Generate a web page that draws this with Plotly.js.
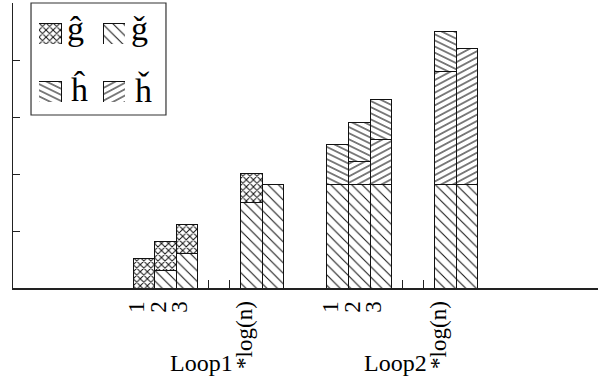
<!DOCTYPE html>
<html><head><meta charset="utf-8">
<script src="https://cdn.plot.ly/plotly-3.0.1.min.js"></script>
<style>html,body{margin:0;padding:0;background:#fff}#chart{width:603px;height:377px}</style>
</head><body><div id="chart"></div>
<script>
// ---- data ----
const groupNames = ["Loop1", "Loop2"];
const slotLabels = ["1", "2", "3", "", "", "*log(n)", ""];
const seriesNames = ["ĝ", "ǧ", "ĥ", "ȟ"];
// values per group, per slot (null = no segment)
const gHat   = [[0.52, 0.51, 0.51, null, null, 0.51, null],
                [null, null, null, null, null, null, null]];
const gCheck = [[null, 0.30, 0.61, null, null, 1.50, 1.81],
                [1.81, 1.81, 1.81, null, null, 1.81, 1.81]];
const hHat   = [[null, null, null, null, null, null, null],
                [0.70, 0.69, 0.70, null, null, 0.70, null]];
const hCheck = [[null, null, null, null, null, null, null],
                [null, 0.41, 0.80, null, null, 1.99, 2.40]];
const yTicks = [0, 1, 2, 3, 4, 5];

// ---- styles ----
const FONT = "'Liberation Serif', 'DejaVu Serif', serif";
const groupGap = 2;
const nSlots = slotLabels.length;
const styles = {
  "ĝ": {shape: "x",  size: 5,   solidity: 0.36, angle: null},
  "ǧ": {shape: "\\", size: 7.4, solidity: 0.14, angle: null},
  "ĥ": {shape: "-",  size: 5.5, solidity: 0.19, angle: 26},
  "ȟ": {shape: "-",  size: 5.6, solidity: 0.19, angle: -28}
};
const seriesValues = {"ĝ": gHat, "ǧ": gCheck, "ĥ": hHat, "ȟ": hCheck};
const stackOrder = ["ǧ", "ȟ", "ĥ", "ĝ"];

function marker(name) {
  const s = styles[name];
  return {
    color: "white",
    line: {color: "#111", width: 1},
    pattern: {shape: s.shape, size: s.size, solidity: s.solidity,
              fgcolor: "#111", bgcolor: "white", fillmode: "replace"}
  };
}

const xs = [], xlab = [];
groupNames.forEach((g, gi) => slotLabels.forEach((lab, i) => {
  xs.push(gi * (nSlots + groupGap) + i + 1); xlab.push(lab);
}));

const traces = [];
stackOrder.forEach(name => {
  const vals = [].concat(...seriesValues[name]);
  traces.push({
    type: "bar", x: xs, y: vals, width: 1, name: name, showlegend: false,
    marker: marker(name), hoverinfo: "skip",
    meta: {angle: styles[name].angle}
  });
});

// hand-made legend: swatches drawn as bars on small axes
const annotations = [];
seriesNames.forEach((name, i) => {
  const col = i % 2, row = Math.floor(i / 2);
  const ax = row === 0 ? "3" : "4";
  traces.push({
    type: "bar", x: [col], y: [1], width: 0.344, showlegend: false,
    xaxis: "x" + ax, yaxis: "y" + ax, marker: marker(name), hoverinfo: "skip",
    meta: {angle: styles[name].angle}
  });
  annotations.push({
    text: name, xref: "x" + ax, yref: "y" + ax, x: col + 0.172, y: 0.5,
    xanchor: "left", yanchor: "middle", xshift: row === 0 ? 4 : 8, yshift: row === 0 ? 5 : 2,
    showarrow: false,
    font: {family: FONT, size: 34, color: "#000"}
  });
});

groupNames.forEach((g, gi) => {
  annotations.push({
    text: g, xref: "x", yref: "paper",
    x: gi * (nSlots + groupGap) + (nSlots + 1) / 2, y: 0,
    xanchor: "center", yanchor: "middle", xshift: -7, yshift: -75,
    showarrow: false, font: {family: FONT, size: 24, color: "#000"}
  });
});

const xRange = [-5.07, 22.08];
const legendDomX = [0.0444, 0.1915];
const layout = {
  width: 603, height: 377,
  margin: {l: 13, r: 5, t: 3, b: 89},
  paper_bgcolor: "white", plot_bgcolor: "white",
  barmode: "stack", bargap: 0,
  showlegend: false,
  font: {family: FONT, color: "#000"},
  xaxis: {range: xRange, tickmode: "array", tickvals: xs, ticktext: xlab,
          tickangle: -90, ticklabelshift: -7, ticklabelstandoff: 2,
          tickfont: {family: FONT, size: 23, color: "#000"},
          ticks: "inside", ticklen: 8, tickwidth: 1, tickcolor: "#222",
          showline: true, linecolor: "#222", linewidth: 2, layer: "below traces",
          showgrid: false, zeroline: false, fixedrange: true},
  yaxis: {range: [0, 5], tickmode: "array", tickvals: yTicks, showticklabels: false,
          ticks: "inside", ticklen: 7, tickwidth: 1, tickcolor: "#222",
          showline: true, linecolor: "#222", linewidth: 1.5, layer: "below traces",
          showgrid: false, zeroline: false, fixedrange: true},
  xaxis3: {domain: legendDomX, anchor: "y3", range: [-0.172, 1.172], visible: false, fixedrange: true},
  yaxis3: {domain: [0.8561, 0.9298], anchor: "x3", range: [0, 1], visible: false, fixedrange: true},
  xaxis4: {domain: legendDomX, anchor: "y4", range: [-0.172, 1.172], visible: false, fixedrange: true},
  yaxis4: {domain: [0.6526, 0.7263], anchor: "x4", range: [0, 1], visible: false, fixedrange: true},
  shapes: [{type: "rect", xref: "paper", yref: "paper", x0: 0.0308, x1: 0.2615, y0: 0.607, y1: 1.0,
            line: {color: "#333", width: 1.2}, fillcolor: "rgba(0,0,0,0)", layer: "below"}],
  annotations: annotations
};

const gd = document.getElementById("chart");
Plotly.newPlot(gd, traces, layout, {staticPlot: true, displayModeBar: false}).then(() => {
  gd.querySelectorAll("g.trace.bars").forEach(tg => {
    const cd = tg.__data__;
    const tr = cd && cd[0] && cd[0].trace;
    if (!tr || !tr.meta || tr.meta.angle === null || tr.meta.angle === undefined) return;
    tg.querySelectorAll("path").forEach(p => {
      const f = p.style.fill || p.getAttribute("fill") || "";
      const k = f.lastIndexOf("#");
      if (k < 0) return;
      const id = f.slice(k + 1).replace(/["')\s]/g, "");
      const pat = document.getElementById(id);
      if (pat) pat.setAttribute("patternTransform", "rotate(" + tr.meta.angle + ")");
    });
  });
});
</script></body></html>
